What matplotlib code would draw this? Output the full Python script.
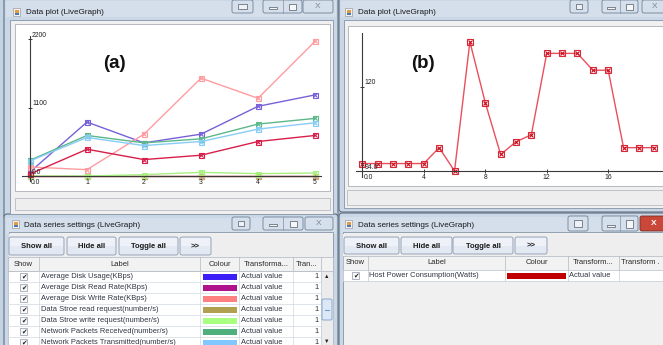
import matplotlib
matplotlib.use("Agg")
import matplotlib.pyplot as plt
from matplotlib.patches import Rectangle, FancyBboxPatch

plt.rcParams['font.family'] = ['Liberation Sans', 'DejaVu Sans']

# ------------------------------------------------------------------ data
# plot (a)
a_x = [0, 1, 2, 3, 4, 5]
a_disk_usage = [65, 866, 532, 672, 1119, 1302]
a_disk_read = [0, 0, 0, 0, 0, 0]
a_disk_write = [145, 102, 672, 1571, 1248, 2162]
a_store_read = [0, 0, 0, 0, 0, 0]
a_store_write = [0, 0, 22, 59, 38, 48]
a_net_recv = [253, 651, 532, 597, 834, 925]
a_net_sent = [242, 619, 489, 554, 753, 855]
a_extra = [32, 430, 264, 334, 554, 651]
a_series = [a_disk_usage, a_disk_read, a_disk_write, a_store_read,
            a_store_write, a_net_recv, a_net_sent, a_extra]
a_line_colors = ['#7860D8', '#C0147A', '#FF9CA0', '#C8B470',
                 '#A8F080', '#5CB88A', '#88CCF8', '#D81E4A']
a_xticks = [0, 1, 2, 3, 4, 5]
a_xticklabels = ['0.0', '1', '2', '3', '4', '5']
a_yticks = [0, 1100, 2200]
a_yticklabels = ['0.0', '1100', '2200']

# plot (b)
b_x = list(range(20))
b_power = [96.3, 96.3, 96.3, 96.3, 96.3, 101.2, 94.0, 133.9, 115.1, 99.1,
           103.0, 105.2, 130.3, 130.3, 130.3, 125.1, 125.1, 101.2, 101.2, 101.2]
b_xticks = [0, 4, 8, 12, 16]
b_xticklabels = ['0.0', '4', '8', '12', '16']
b_yticks = [94, 120]
b_yticklabels = ['94.0', '120']

# settings tables
table_labels = ['Average Disk Usage(KBps)', 'Average Disk Read Rate(KBps)',
                'Average Disk Write Rate(KBps)', 'Data Stroe read request(number/s)',
                'Data Stroe write request(number/s)', 'Network Packets Received(number/s)',
                'Network Packets Transmitted(number/s)']
table_colours = ['#3C1EF8', '#B0128C', '#FF8080', '#B0A050', '#A8FF80', '#4FB07D', '#80C8FF']
table_headers = ['Show', 'Label', 'Colour', 'Transforma...', 'Tran...']
b_table_labels = ['Host Power Consumption(Watts)']
b_table_colours = ['#C00000']
b_table_headers = ['Show', 'Label', 'Colour', 'Transform...', 'Transform .']
buttons = ['Show all', 'Hide all', 'Toggle all', '>>']

# ------------------------------------------------------------------ figure
W, H = 663, 345
fig = plt.figure(figsize=(6.63, 3.45), dpi=100)
fig.patch.set_facecolor('#C4D3E3')
bg = fig.add_axes([0, 0, 1, 1])
bg.set_xlim(0, W)
bg.set_ylim(H, 0)
bg.axis('off')

UI = 5.4


def rect(x0, y0, x1, y1, fc, ec='none', lw=0.6, z=1, r=None):
    if r:
        p = FancyBboxPatch((x0, y0), x1 - x0, y1 - y0,
                           boxstyle=f"round,pad=0,rounding_size={r}",
                           fc=fc, ec=ec, lw=lw, zorder=z)
    else:
        p = Rectangle((x0, y0), x1 - x0, y1 - y0, fc=fc, ec=ec, lw=lw, zorder=z)
    bg.add_patch(p)
    return p


def txt(x, y, s, size=UI, ha='left', va='center', weight='normal', color='#1A1A1A', z=5):
    bg.text(x, y, s, fontsize=size, ha=ha, va=va, fontweight=weight, color=color, zorder=z)


def title_buttons(ty0, ty1, b1, b2, b3, red=False):
    rect(b1[0], ty0, b1[1], ty1, '#D6E0EC', '#6F8094', 0.6, 3, r=2)
    rect(b1[0] + 6, ty0 + 4, b1[1] - 6, ty1 - 4, '#EEF2F6', '#505A66', 0.5, 4)
    rect(b2[0], ty0, b2[1], ty1, '#D6E0EC', '#6F8094', 0.6, 3, r=2)
    mid = (b2[0] + b2[1]) / 2
    bg.plot([mid, mid], [ty0, ty1], color='#8090A4', lw=0.5, zorder=4)
    rect((b2[0] + mid) / 2 - 4, ty1 - 6, (b2[0] + mid) / 2 + 4, ty1 - 4.5, '#F4F6F8', '#505A66', 0.5, 4)
    rect((mid + b2[1]) / 2 - 3.5, ty0 + 3.5, (mid + b2[1]) / 2 + 3.5, ty1 - 3.5, '#F4F6F8', '#505A66', 0.5, 4)
    if red:
        rect(b3[0], ty0, b3[1], ty1, '#C9483A', '#7A2A24', 0.6, 3, r=2)
        txt((b3[0] + b3[1]) / 2, (ty0 + ty1) / 2, 'X', 6, 'center', 'center', 'bold', 'white')
    else:
        rect(b3[0], ty0, b3[1], ty1, '#D6E0EC', '#6F8094', 0.6, 3, r=2)
        txt((b3[0] + b3[1]) / 2, (ty0 + ty1) / 2, 'X', 6, 'center', 'center', 'normal', '#7A8694')


def icon(x, y):
    rect(x, y, x + 7, y + 8, '#F2F2F2', '#8A8A8A', 0.4, 4)
    rect(x + 1.5, y + 1.5, x + 5.5, y + 5, '#E89A40', 'none', 0, 4)
    rect(x + 1.5, y + 5, x + 5.5, y + 7, '#4A78B8', 'none', 0, 4)


# window frames
for (x0, y0, x1, y1) in [(4, -3, 338, 219), (339, -3, 668, 212), (4, 214, 338, 350), (339, 213, 668, 350)]:
    rect(x0, y0, x1, y1, '#C9D7E6', '#5F6F80', 0.8, 1, r=3)
    rect(x0 + 2, y0 + 4, x1 - 2, y0 + 20, '#D4DFEB', 'none', 0, 1.5)

# title bar A
icon(13, 8)
txt(26, 12.5, 'Data plot (LiveGraph)', 5.9)
title_buttons(0, 13, (232, 253), (263, 302), (303, 333))
# title bar B
icon(345, 8)
txt(358, 12.5, 'Data plot (LiveGraph)', 5.9)
title_buttons(0, 13, (570, 588), (602, 638), (642, 668))
# title bar C
icon(12, 220)
txt(24, 225.5, 'Data series settings (LiveGraph)', 5.9)
title_buttons(217, 230, (232, 250), (263, 303), (305, 333))
# title bar D
icon(345, 220)
txt(358, 225.5, 'Data series settings (LiveGraph)', 5.9)
title_buttons(216, 231, (568, 588), (602, 638), (640, 668), red=True)

# client areas
rect(10, 20, 333, 214, '#F0F0F0', '#8594A6', 0.6, 2)
rect(344, 20, 668, 208, '#F0F0F0', '#8594A6', 0.6, 2)
rect(9, 232, 333, 350, '#F0F0F0', '#8594A6', 0.6, 2)
rect(343, 232, 668, 350, '#F0F0F0', '#8594A6', 0.6, 2)

# plot panels + status bars
rect(15, 24, 330, 191, '#FFFFFF', '#B4B8BE', 0.7, 2.5)
rect(15, 198, 330, 210, '#EEEEEE', '#B8BCC2', 0.6, 2.5)
rect(348, 26, 668, 186, '#FFFFFF', '#B4B8BE', 0.7, 2.5)
rect(347, 190, 668, 205, '#EEEEEE', '#B8BCC2', 0.6, 2.5)

txt(114, 64, '(a)', 13.5, 'center', 'center', 'bold', '#111111')
txt(423, 64, '(b)', 13.5, 'center', 'center', 'bold', '#111111')


# ------------------------------------------------------------------ data plots
def setup_axes(ax, x0val, y0val, xt, xtl, yt, ytl):
    ax.patch.set_alpha(0)
    for s in ['top', 'right']:
        ax.spines[s].set_visible(False)
    ax.spines['left'].set_position(('data', x0val))
    ax.spines['bottom'].set_position(('data', y0val))
    for s in ['left', 'bottom']:
        ax.spines[s].set_color('#3A3A3A')
        ax.spines[s].set_linewidth(0.8)
    ax.set_xticks(xt, [''] * len(xt))
    ax.set_yticks(yt, [''] * len(yt))
    ax.tick_params(direction='inout', length=3, width=0.7, color='#3A3A3A')
    for i, (v, lab) in enumerate(zip(xt, xtl)):
        ax.annotate(lab, (v, y0val), xytext=(0.8 if i == 0 else 0, -2.5),
                    textcoords='offset points', ha='left' if i == 0 else 'center',
                    va='top', fontsize=4.9, color='#202020')
    for v, lab in zip(yt, ytl):
        ax.annotate(lab, (x0val, v), xytext=(1.5, 0.3), textcoords='offset points',
                    ha='left', va='bottom', fontsize=4.9, color='#202020')


axa = fig.add_axes([22 / W, 1 - 181 / H, 299 / W, 145 / H])
axa.set_xlim(-0.14, 5.105)
axa.set_ylim(-80, 2248)
setup_axes(axa, 0, 0, a_xticks, a_xticklabels, a_yticks, a_yticklabels)
for vals, c in zip(a_series, a_line_colors):
    axa.plot(a_x, vals, color=c, lw=1.0, marker='s', ms=3.6, mfc='none', mec=c, mew=0.8, clip_on=False)
    axa.plot(a_x, vals, ls='none', marker='x', ms=2.8, mec=c, mew=0.8, clip_on=False)

axb = fig.add_axes([356 / W, 1 - 176.7 / H, 306 / W, 143.4 / H])
axb.set_xlim(-0.41, 19.5)
axb.set_ylim(92.24, 136.5)
setup_axes(axb, 0, 94, b_xticks, b_xticklabels, b_yticks, b_yticklabels)
axb.plot(b_x, b_power, color='#E8505C', lw=1.0, marker='s', ms=3.8, mfc='none', mec='#D82838', mew=0.8, clip_on=False)
axb.plot(b_x, b_power, ls='none', marker='x', ms=3.0, mec='#C81020', mew=0.8, clip_on=False)


# ------------------------------------------------------------------ settings panels
def button_row(spans, y0, y1):
    for (x0, x1), lab in zip(spans, buttons):
        rect(x0, y0, x1, y1, '#E2E9F2', '#8C9AAE', 0.6, 3, r=2)
        rect(x0 + 1, y0 + 1, x1 - 1, (y0 + y1) / 2, '#EEF2F8', 'none', 0, 3.2)
        txt((x0 + x1) / 2, (y0 + y1) / 2 + 0.5, lab, 5.5, 'center', 'center', 'bold', '#1A1A1A')


def checkbox(x, y):
    rect(x - 3.5, y - 3.5, x + 3.5, y + 3.5, '#F8F8F8', '#8E98A6', 0.5, 4)
    txt(x, y + 0.3, '✔', 4.8, 'center', 'center', 'normal', '#202020', 6)


# left settings window (C)
rect(9, 234, 333, 257, '#EEEEEE', 'none', 0, 2.5)
button_row([(9, 64), (67, 116), (119, 178), (180, 211)], 237, 255)
colsC = [8, 39, 200, 239, 293, 321]
hy0, hy1 = 257, 271
rect(8, hy0, 333, hy1, '#F2F2F2', '#B0B6C0', 0.5, 3)
for x in colsC[1:]:
    bg.plot([x, x], [hy0, hy1], color='#B0B6C0', lw=0.5, zorder=3.5)
for i, h in enumerate(table_headers):
    xc = (colsC[i] + colsC[i + 1]) / 2
    txt(xc, (hy0 + hy1) / 2, h, 5.5, 'center', 'center', color='#2A2A2A')
rect(8, hy1, 321, 350, '#FFFFFF', '#B0B6C0', 0.5, 3)
for i, (lab, col) in enumerate(zip(table_labels, table_colours)):
    r0 = hy1 + 11 * i
    rc = r0 + 5.5
    bg.plot([8, 321], [r0 + 11, r0 + 11], color='#D2D8E2', lw=0.5, zorder=3.5)
    checkbox(23.5, rc)
    txt(41, rc, lab, 5.4, color='#2E3440')
    rect(203, r0 + 3, 237, r0 + 8.5, col, 'none', 0, 4)
    txt(241, rc, 'Actual value', 5.4, color='#2E3440')
    txt(319, rc, '1', 5.4, 'right', color='#2E3440')
for x in colsC[1:]:
    bg.plot([x, x], [hy1, 350], color='#D2D8E2', lw=0.5, zorder=3.5)
# scrollbar
rect(321, hy1, 333, 350, '#ECECEC', '#B8BEC8', 0.5, 3)
txt(327, 276.5, '▲', 4, 'center', 'center', color='#202020')
txt(327, 341, '▼', 4, 'center', 'center', color='#202020')
rect(322, 299, 332, 320, '#DCE8F6', '#7C9CC8', 0.6, 4, r=1.5)
bg.plot([325, 329], [309.5, 309.5], color='#7C9CC8', lw=0.8, zorder=5)

# right settings window (D)
rect(343, 234, 668, 256, '#EEEEEE', 'none', 0, 2.5)
button_row([(344, 399), (401, 452), (453, 513), (515, 547)], 237, 254)
colsD = [343, 368, 505, 568, 619, 668]
hy0, hy1 = 256, 270
rect(343, hy0, 668, hy1, '#F2F2F2', '#B0B6C0', 0.5, 3)
for x in colsD[1:-1]:
    bg.plot([x, x], [hy0, hy1], color='#B0B6C0', lw=0.5, zorder=3.5)
for i, h in enumerate(b_table_headers):
    if i < len(b_table_headers) - 1:
        xc = (colsD[i] + colsD[i + 1]) / 2
        txt(xc, (hy0 + hy1) / 2, h, 5.5, 'center', 'center', color='#2A2A2A')
    else:
        txt(colsD[i] + 2, (hy0 + hy1) / 2, h, 5.5, 'left', 'center', color='#2A2A2A')
for i, (lab, col) in enumerate(zip(b_table_labels, b_table_colours)):
    r0 = hy1 + 11 * i
    rc = r0 + 5.5
    rect(343, r0, 668, r0 + 11, '#FFFFFF', '#C4CAD4', 0.5, 3)
    for x in colsD[1:-1]:
        bg.plot([x, x], [r0, r0 + 11], color='#C4CAD4', lw=0.5, zorder=3.5)
    checkbox(355.5, rc)
    txt(369, rc, lab, 5.4, color='#2E3440')
    rect(507, r0 + 2.5, 566, r0 + 8.5, col, 'none', 0, 4)
    txt(569, rc, 'Actual value', 5.4, color='#2E3440')

fig.savefig('out.png', dpi=100, facecolor=fig.get_facecolor())
